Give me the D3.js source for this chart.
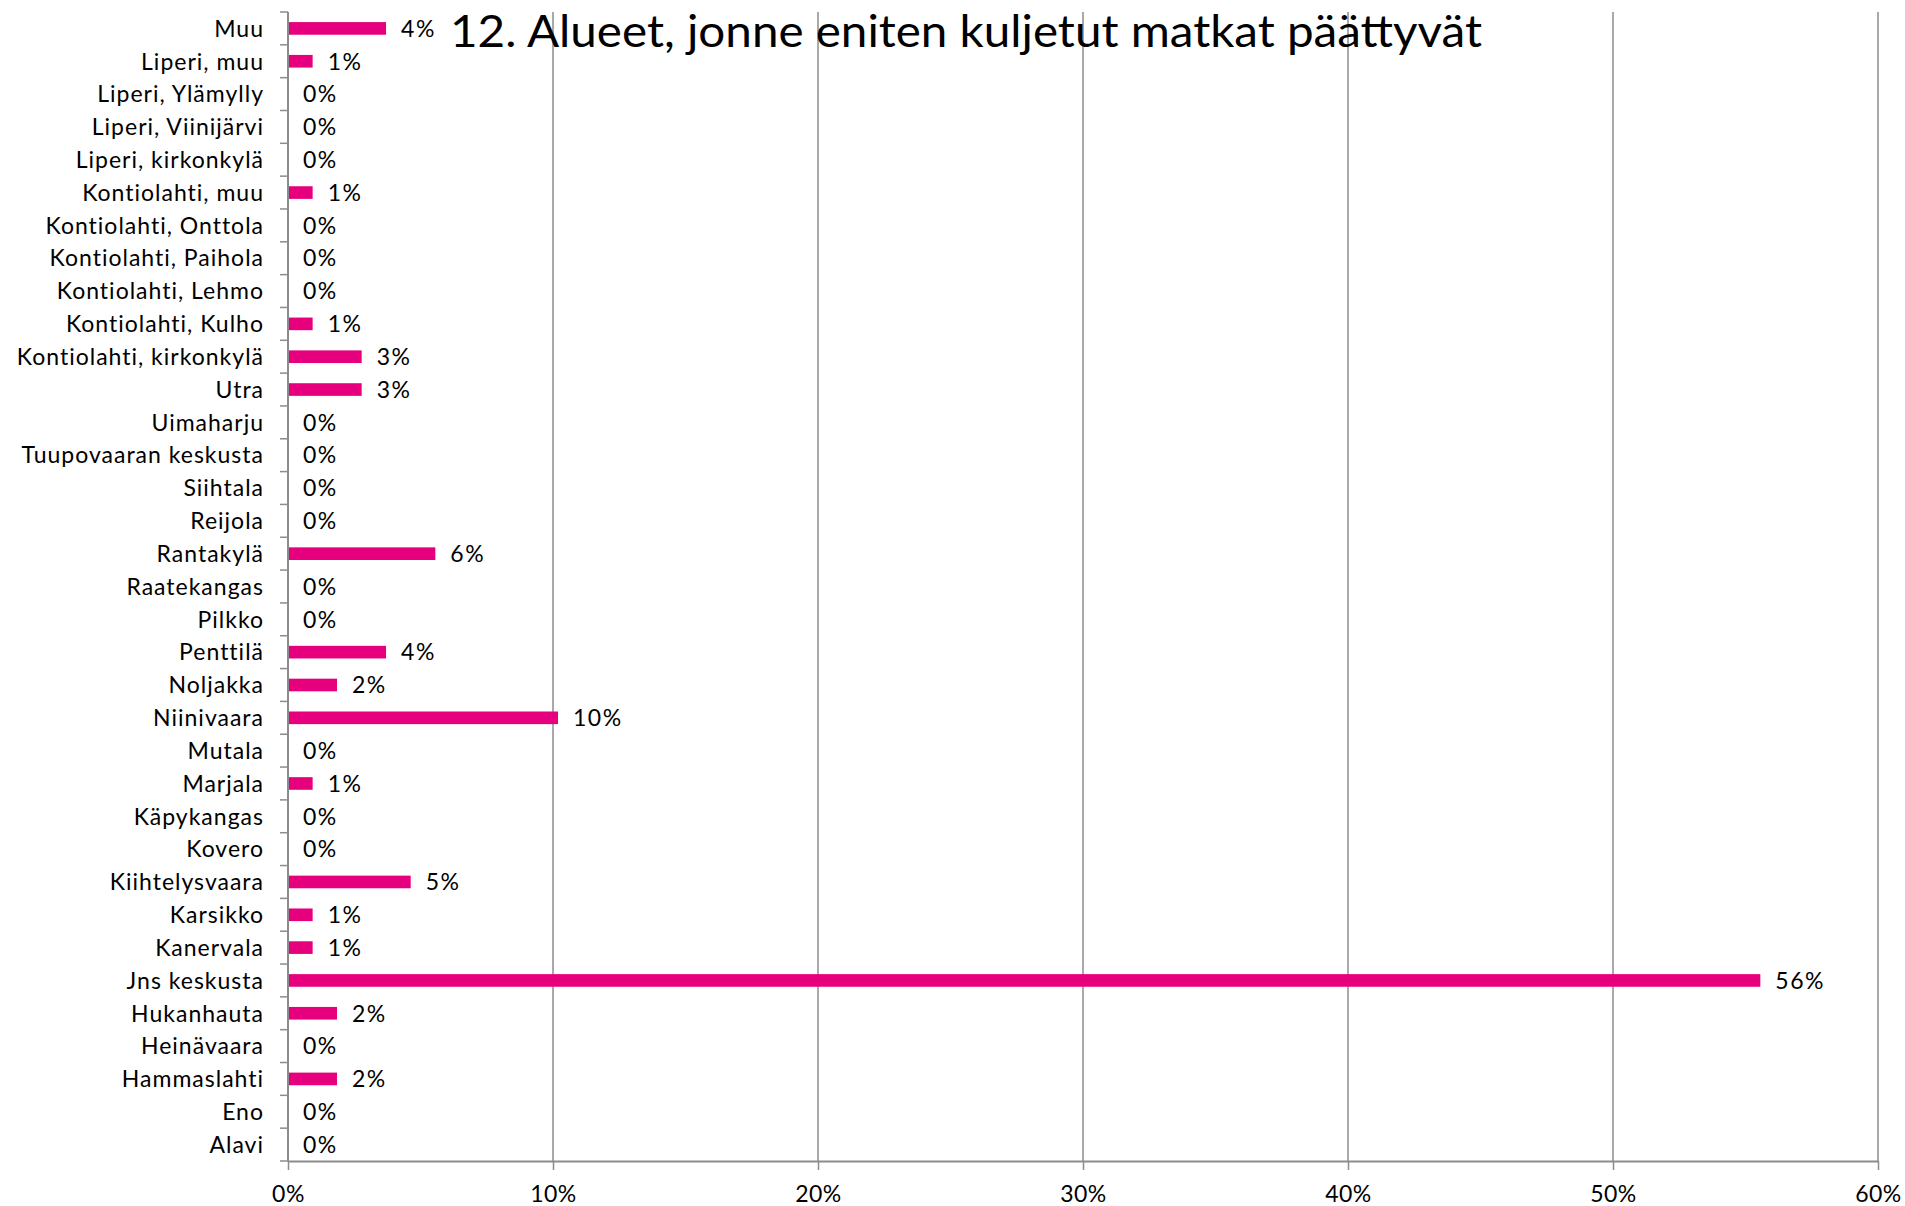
<!DOCTYPE html>
<html>
<head>
<meta charset="utf-8">
<script src="https://cdn.jsdelivr.net/npm/d3@7"></script>
<style>
  body { margin: 0; background: #fff; }
  text { font-family: Lato, "Open Sans", sans-serif; fill: #000; }
</style>
</head>
<body>
<div class="chart"></div>
<script>
var wi = 1905;
var he = 1206;

var title = "12. Alueet, jonne eniten kuljetut matkat päättyvät";

// categories top to bottom
var areas = ["Muu", "Liperi, muu", "Liperi, Ylämylly", "Liperi, Viinijärvi", "Liperi, kirkonkylä",
  "Kontiolahti, muu", "Kontiolahti, Onttola", "Kontiolahti, Paihola", "Kontiolahti, Lehmo",
  "Kontiolahti, Kulho", "Kontiolahti, kirkonkylä", "Utra", "Uimaharju", "Tuupovaaran keskusta",
  "Siihtala", "Reijola", "Rantakylä", "Raatekangas", "Pilkko", "Penttilä", "Noljakka",
  "Niinivaara", "Mutala", "Marjala", "Käpykangas", "Kovero", "Kiihtelysvaara", "Karsikko",
  "Kanervala", "Jns keskusta", "Hukanhauta", "Heinävaara", "Hammaslahti", "Eno", "Alavi"];

// share of trips, percent
var shares = [3.70, 0.93, 0, 0, 0,
  0.93, 0, 0, 0,
  0.93, 2.78, 2.78, 0, 0,
  0, 0, 5.56, 0, 0, 3.70, 1.85,
  10.19, 0, 0.93, 0, 0, 4.63, 0.93,
  0.93, 55.56, 1.85, 0, 1.85, 0, 0];

var xTicks = [0, 10, 20, 30, 40, 50, 60];

var dataset = areas.map(function(a, i) { return {area: a, share: shares[i] / 100}; });

var plotLeft = 288, plotRight = 1878, plotTop = 12, plotBottom = 1161;

var svg = d3.select(".chart").append("svg")
    .attr("width", wi)
    .attr("height", he);

var xScale = d3.scaleLinear()
    .domain([0, 0.6])
    .range([plotLeft, plotRight]);

var yScale = d3.scaleBand()
    .domain(areas)
    .range([plotTop, plotBottom])
    .paddingInner(0.615)
    .paddingOuter(0.3075);

var fmt = d3.format(".0%");

// vertical gridlines
svg.append("g")
  .selectAll("line")
  .data(xTicks.slice(1))
  .enter()
  .append("line")
    .attr("x1", function(d) { return xScale(d / 100); })
    .attr("x2", function(d) { return xScale(d / 100); })
    .attr("y1", plotTop)
    .attr("y2", plotBottom)
    .attr("stroke", "#8c8c8c")
    .attr("stroke-width", 1.5);

// bars
svg.append("g")
  .selectAll("rect")
  .data(dataset.filter(function(d) { return d.share > 0; }))
  .enter()
  .append("rect")
    .attr("x", xScale(0))
    .attr("y", function(d) { return yScale(d.area); })
    .attr("width", function(d) { return xScale(d.share) - xScale(0); })
    .attr("height", yScale.bandwidth())
    .attr("fill", "#e6007e");

// value labels
svg.append("g")
  .selectAll("text")
  .data(dataset)
  .enter()
  .append("text")
    .attr("x", function(d) { return xScale(d.share) + 15; })
    .attr("y", function(d) { return yScale(d.area) + yScale.bandwidth() / 2; })
    .attr("dy", "0.36em")
    .style("font-size", "23px")
    .style("letter-spacing", "1.5px")
    .text(function(d) { return fmt(d.share); });

// y axis with ticks between categories
var yAxis = svg.append("g");
yAxis.append("line")
    .attr("x1", plotLeft).attr("x2", plotLeft)
    .attr("y1", plotTop).attr("y2", plotBottom)
    .attr("stroke", "#8c8c8c")
    .attr("stroke-width", 2);
var step = yScale.step();
yAxis.selectAll(".tk")
  .data(d3.range(areas.length + 1))
  .enter()
  .append("line")
    .attr("x1", plotLeft - 8).attr("x2", plotLeft)
    .attr("y1", function(i) { return plotTop + i * step; })
    .attr("y2", function(i) { return plotTop + i * step; })
    .attr("stroke", "#8c8c8c")
    .attr("stroke-width", 1.5);
yAxis.selectAll("text")
  .data(areas)
  .enter()
  .append("text")
    .attr("x", 264)
    .attr("y", function(d) { return yScale(d) + yScale.bandwidth() / 2; })
    .attr("dy", "0.36em")
    .attr("text-anchor", "end")
    .style("font-size", "23px")
    .style("letter-spacing", "1px")
    .text(function(d) { return d; });

// x axis
var xAxis = d3.axisBottom(xScale)
    .tickValues(xTicks.map(function(d) { return d / 100; }))
    .tickFormat(fmt)
    .tickSize(9)
    .tickSizeOuter(0)
    .tickPadding(16);

var gx = svg.append("g")
    .attr("transform", "translate(0," + plotBottom + ")")
    .call(xAxis);
gx.select(".domain").attr("stroke", "#8c8c8c").attr("stroke-width", 2);
gx.selectAll(".tick line").attr("stroke", "#8c8c8c").attr("stroke-width", 1.5);
gx.selectAll(".tick text")
    .style("font-size", "23px")
    .style("font-family", "Lato, 'Open Sans', sans-serif")
    .style("letter-spacing", "0.5px")
    .attr("fill", "#000");

// title
svg.append("text")
    .attr("x", 450)
    .attr("y", 47)
    .attr("textLength", 1032)
    .attr("lengthAdjust", "spacingAndGlyphs")
    .style("font-size", "44px")
    .text(title);
</script>
</body>
</html>
